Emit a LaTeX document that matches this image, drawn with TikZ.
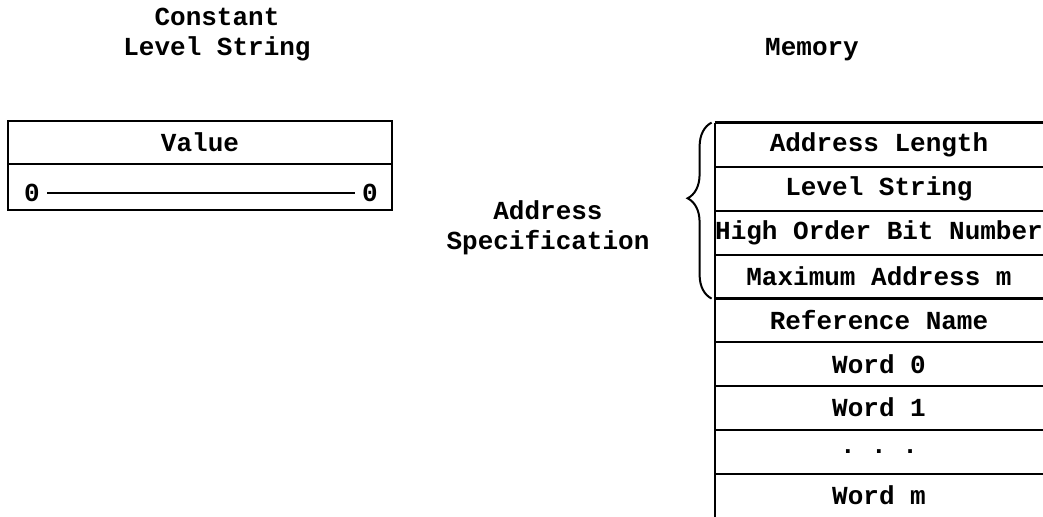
\documentclass[tikz,border=0pt]{standalone}
\usepackage{fontspec}
\setmonofont{Liberation Mono}
\usetikzlibrary{positioning,decorations.pathreplacing}

\begin{document}
\begin{tikzpicture}[x=0.5pt, y=-0.5pt,
        lbl/.style={font=\ttfamily\bfseries\fontsize{13}{15}\selectfont,
                    align=center, inner sep=0pt},
        cell/.style={lbl, minimum width=164pt, minimum height=21.9pt},
        box/.style={lbl, draw, line width=1.1pt, outer sep=0pt,
                    minimum width=192pt},
        rule/.style={line width=1.1pt},
      ]
      \useasboundingbox (0,0) rectangle (1043,517);

      % constant level string
      \node[lbl] (conhead) at (217,35) {Constant\\Level String};
      \node[box, minimum height=21.5pt] (valbox) at (200,142.5) {Value};
      \node[box, minimum height=23pt, below=0pt of valbox] (zerobox) {};
      \node[lbl, inner xsep=3.5pt] (zl) at (32,193) {0};
      \node[lbl, inner xsep=3.5pt] (zr) at (370,193) {0};
      \draw[line width=0.8pt] (zl) -- (zr);

      % memory
      \node[lbl] (memhead) at (812,50) {Memory};
      \foreach \txt [count=\i] in {Address Length, Level String,
            High Order Bit Number, Maximum Address m, Reference Name,
            Word 0, Word 1, . . ., Word m}
        \node[cell] (row\i) at (879,{123+43.8*(\i-0.5)}) {\txt};
      \draw[rule] (row1.north west) -- (row1.north east);
      \foreach \i in {1,...,9}
        \draw[rule] (row\i.south west) -- (row\i.south east);
      \draw[rule] (row1.north west) -- (row9.south west);

      % address specification
      \draw[line width=1pt, decorate,
            decoration={brace, amplitude=12pt, aspect=0.57}]
            ([xshift=-1.5pt]row4.south west) -- ([xshift=-1.5pt]row1.north west);
      \node[lbl] (addrspec) at (548,228) {Address\\Specification};
    \end{tikzpicture}
\end{document}
